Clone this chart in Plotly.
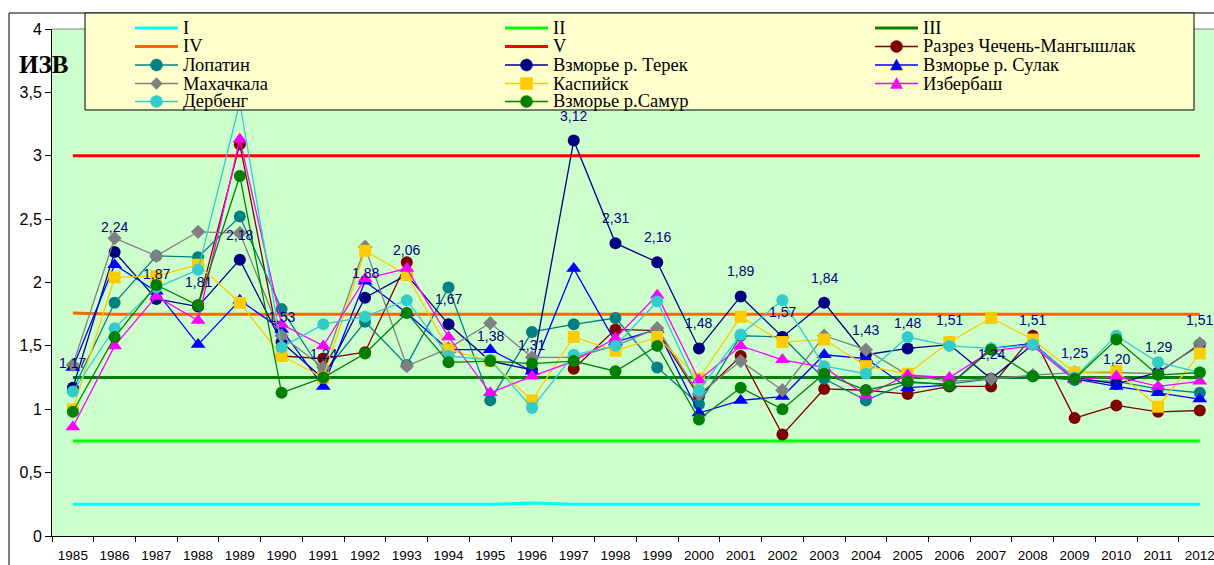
import plotly.graph_objects as go

# --- data -------------------------------------------------------------
years = ["1985", "1986", "1987", "1988", "1989", "1990", "1991", "1992", "1993", "1994",
         "1995", "1996", "1997", "1998", "1999", "2000", "2001", "2002", "2003", "2004",
         "2005", "2006", "2007", "2008", "2009", "2010", "2011", "2012"]

# class boundaries (I..V)
level_I = [0.25, 0.25, 0.25, 0.25, 0.25, 0.25, 0.25, 0.25, 0.25, 0.25, 0.25, 0.26, 0.25, 0.25,
           0.25, 0.25, 0.25, 0.25, 0.25, 0.25, 0.25, 0.25, 0.25, 0.25, 0.25, 0.25, 0.25, 0.25]
level_II = [0.75, 0.75, 0.75, 0.75, 0.75, 0.75, 0.75, 0.75, 0.75, 0.75, 0.75, 0.75, 0.75, 0.75,
            0.75, 0.75, 0.75, 0.75, 0.75, 0.75, 0.75, 0.75, 0.75, 0.75, 0.75, 0.75, 0.75, 0.75]
level_III = [1.25, 1.25, 1.25, 1.25, 1.25, 1.25, 1.25, 1.25, 1.25, 1.25, 1.25, 1.25, 1.25, 1.25,
             1.25, 1.25, 1.25, 1.25, 1.25, 1.25, 1.25, 1.25, 1.25, 1.25, 1.25, 1.25, 1.25, 1.25]
level_IV = [1.76, 1.75, 1.75, 1.75, 1.75, 1.75, 1.75, 1.75, 1.75, 1.75, 1.75, 1.75, 1.75, 1.75,
            1.75, 1.75, 1.75, 1.75, 1.75, 1.75, 1.75, 1.75, 1.75, 1.75, 1.75, 1.75, 1.75, 1.75]
level_V = [3.0, 3.0, 3.0, 3.0, 3.0, 3.0, 3.0, 3.0, 3.0, 3.0, 3.0, 3.0, 3.0, 3.0,
           3.0, 3.0, 3.0, 3.0, 3.0, 3.0, 3.0, 3.0, 3.0, 3.0, 3.0, 3.0, 3.0, 3.0]

chechen = [None, None, None, 1.82, 3.09, 1.42, 1.40, 1.45, 2.16, None, None, None, 1.32, 1.63,
           1.62, 1.10, 1.42, 0.80, 1.16, 1.15, 1.12, 1.18, 1.18, 1.58, 0.93, 1.03, 0.98, 0.99]
lopatin = [1.15, 1.84, 2.21, 2.20, 2.52, 1.79, 1.28, 1.69, 1.35, 1.96, 1.07, 1.61, 1.67, 1.72,
           1.33, 1.04, 1.58, 1.57, 1.24, 1.07, 1.21, 1.20, 1.24, 1.26, 1.23, 1.22, 1.16, 1.13]
terek = [1.17, 2.24, 1.87, 1.81, 2.18, 1.53, 1.24, 1.88, 2.06, 1.67, 1.38, 1.31, 3.12, 2.31,
         2.16, 1.48, 1.89, 1.57, 1.84, 1.43, 1.48, 1.51, 1.24, 1.51, 1.25, 1.20, 1.29, 1.51]
sulak = [1.33, 2.14, 1.93, 1.51, 1.86, 1.63, 1.18, 2.01, 1.76, 1.47, 1.47, 1.30, 2.11, 1.53,
         1.63, 0.97, 1.07, 1.10, 1.43, 1.40, 1.17, 1.19, 1.48, 1.52, 1.24, 1.18, 1.13, 1.08]
makhachkala = [1.35, 2.35, 2.21, 2.40, 2.39, 1.58, 1.33, 2.28, 1.34, 1.48, 1.68, 1.41, 1.41, 1.50,
               1.64, 1.12, 1.38, 1.15, 1.58, 1.47, 1.27, 1.22, 1.24, 1.27, 1.29, 1.29, 1.28, 1.52]
kaspiysk = [1.00, 2.04, 2.05, 2.14, 1.84, 1.42, 1.25, 2.25, 2.06, 1.47, 1.38, 1.07, 1.57, 1.46,
            1.57, 1.24, 1.73, 1.53, 1.55, 1.34, 1.28, 1.53, 1.72, 1.55, 1.29, 1.30, 1.02, 1.44]
izberbash = [0.86, 1.50, 1.89, 1.70, 3.13, 1.67, 1.50, 2.03, 2.11, 1.57, 1.13, 1.26, 1.38, 1.56,
             1.90, 1.23, 1.50, 1.39, 1.33, 1.11, 1.27, 1.25, 1.46, 1.50, 1.23, 1.26, 1.18, 1.22]
derbent = [1.14, 1.64, 1.96, 2.10, 3.42, 1.49, 1.67, 1.73, 1.86, 1.42, 1.39, 1.01, 1.43, 1.50,
           1.85, 1.15, 1.59, 1.86, 1.34, 1.28, 1.57, 1.50, 1.48, 1.51, 1.25, 1.58, 1.37, 1.29]
samur = [0.98, 1.57, 1.98, 1.82, 2.84, 1.13, 1.25, 1.44, 1.76, 1.37, 1.38, 1.36, 1.38, 1.30,
         1.50, 0.92, 1.17, 1.00, 1.28, 1.15, 1.22, 1.19, 1.47, 1.26, 1.24, 1.55, 1.27, 1.29]

# --- page geometry (pixels) -------------------------------------------
W, H = 1214, 565
ML, MR, MT, MB = 52, 0, 29, 29


def px(x):
    """page x (px) -> paper x"""
    return (x - ML) / (W - ML - MR)


def py(y):
    """page y (px) -> paper y"""
    return (H - MB - y) / (H - MT - MB)


levels = [
    ("I", level_I, "#00FFFF"),
    ("II", level_II, "#00FF00"),
    ("III", level_III, "#008000"),
    ("IV", level_IV, "#FF6600"),
    ("V", level_V, "#FF0000"),
]

# name, values, color, plotly symbol, size, legend glyph
stations = [
    ("Разрез Чечень-Мангышлак", chechen, "#800000", "circle", 12, "circle"),
    ("Лопатин", lopatin, "#008080", "circle", 12, "circle"),
    ("Взморье р. Терек", terek, "#000080", "circle", 12, "circle"),
    ("Взморье р. Сулак", sulak, "#0000FF", "triangle-up", 13, "triangle"),
    ("Махачкала", makhachkala, "#808080", "diamond", 11, "diamond"),
    ("Каспийск", kaspiysk, "#FFCC00", "square", 12, "square"),
    ("Избербаш", izberbash, "#FF00FF", "triangle-up", 13, "triangle"),
    ("Дербенг", derbent, "#33CCCC", "circle", 12, "circle"),
    ("Взморье р.Самур", samur, "#008000", "circle", 12, "circle"),
]

fig = go.Figure()

for name, vals, color in levels:
    fig.add_trace(go.Scatter(x=years, y=vals, name=name, mode="lines",
                             line=dict(color=color, width=3)))

for name, vals, color, symbol, size, _ in stations:
    fig.add_trace(go.Scatter(x=years, y=vals, name=name, mode="lines+markers",
                             line=dict(color=color, width=1.3),
                             marker=dict(symbol=symbol, size=size, color=color,
                                         line=dict(width=0))))

# data labels for Терек (category index on the x axis)
annotations = []
for i, v in enumerate(terek):
    annotations.append(dict(x=i, y=v, xref="x", yref="y", yshift=25, showarrow=False,
                            text=f"{v:.2f}".replace(".", ","), borderpad=0,
                            font=dict(family="Arial", size=14, color="#000080")))

# --- frame + hand-drawn legend ----------------------------------------
shapes = [
    dict(type="line", xref="paper", yref="paper", x0=px(9), x1=px(9), y0=py(13), y1=py(575),
         line=dict(color="black", width=1), layer="above"),
    dict(type="line", xref="paper", yref="paper", x0=px(9), x1=px(1230), y0=py(13), y1=py(13),
         line=dict(color="black", width=1), layer="above"),
    dict(type="line", xref="paper", yref="paper", x0=0, x1=1.02, y0=1, y1=1,
         line=dict(color="#808080", width=1), layer="above"),
    dict(type="rect", xref="paper", yref="paper", x0=px(85), x1=px(1194), y0=py(13), y1=py(110),
         fillcolor="#FFFFCC", line=dict(color="black", width=1), layer="above"),
]

legend_items = [(n, c, None, 3) for n, _, c in levels]
legend_items += [(n, c, g, 1.5) for n, _, c, _, _, g in stations]
col_x = [135, 505, 875]
row_y = [28, 46.5, 65, 83.5, 101.5]
r = 6
for i, (name, color, glyph, lw) in enumerate(legend_items):
    cx = col_x[i % 3]
    ry = row_y[i // 3]
    shapes.append(dict(type="line", xref="paper", yref="paper", x0=px(cx), x1=px(cx + 43),
                       y0=py(ry), y1=py(ry), line=dict(color=color, width=lw), layer="above"))
    mx = cx + 21.5
    mk = dict(xref="paper", yref="paper", fillcolor=color, line=dict(color=color, width=0.5),
              layer="above")
    if glyph == "circle":
        shapes.append(dict(type="circle", x0=px(mx - r), x1=px(mx + r),
                           y0=py(ry - r), y1=py(ry + r), **mk))
    elif glyph == "square":
        shapes.append(dict(type="rect", x0=px(mx - r), x1=px(mx + r),
                           y0=py(ry - r), y1=py(ry + r), **mk))
    elif glyph == "triangle":
        path = (f"M {px(mx)},{py(ry - 6)} L {px(mx + 6)},{py(ry + 5)} "
                f"L {px(mx - 6)},{py(ry + 5)} Z")
        shapes.append(dict(type="path", path=path, **mk))
    elif glyph == "diamond":
        path = (f"M {px(mx)},{py(ry - 6)} L {px(mx + 6)},{py(ry)} "
                f"L {px(mx)},{py(ry + 6)} L {px(mx - 6)},{py(ry)} Z")
        shapes.append(dict(type="path", path=path, **mk))
    annotations.append(dict(x=px(cx + 47), y=py(ry), xref="paper", yref="paper",
                            xanchor="left", yanchor="middle", showarrow=False, text=name,
                            borderpad=0,
                            font=dict(family="Liberation Serif", size=18.5, color="black")))

annotations.append(dict(x=px(17), y=py(64), xref="paper", yref="paper", xanchor="left",
                        yanchor="middle", showarrow=False, text="<b>ИЗВ</b>",
                        font=dict(family="Liberation Serif", size=25, color="black")))

fig.update_layout(
    width=W, height=H,
    margin=dict(l=ML, r=MR, t=MT, b=MB),
    paper_bgcolor="white",
    plot_bgcolor="#CCFFCC",
    showlegend=False,
    separators=", ",
    shapes=shapes,
    annotations=annotations,
)
fig.update_xaxes(type="category", range=[-0.5, 27.34], tickson="boundaries",
                 ticks="outside", ticklen=5, tickcolor="black", showline=True,
                 linecolor="black", linewidth=1, showgrid=False, zeroline=False,
                 automargin=False, ticklabelstandoff=7,
                 tickfont=dict(family="Arial", size=13.5, color="black"))
fig.update_yaxes(range=[0, 4], dtick=0.5, ticks="outside", ticklen=6, tickcolor="black",
                 showline=True, linecolor="black", linewidth=1, showgrid=False,
                 zeroline=False, automargin=False,
                 tickfont=dict(family="Arial", size=16, color="black"))

# the page body margin would push the figure 8px in; place it at the corner
fig.write_html("out.html", config={"displayModeBar": False},
               post_script="document.body.style.margin='0';"
                           "document.body.style.overflow='hidden';")
